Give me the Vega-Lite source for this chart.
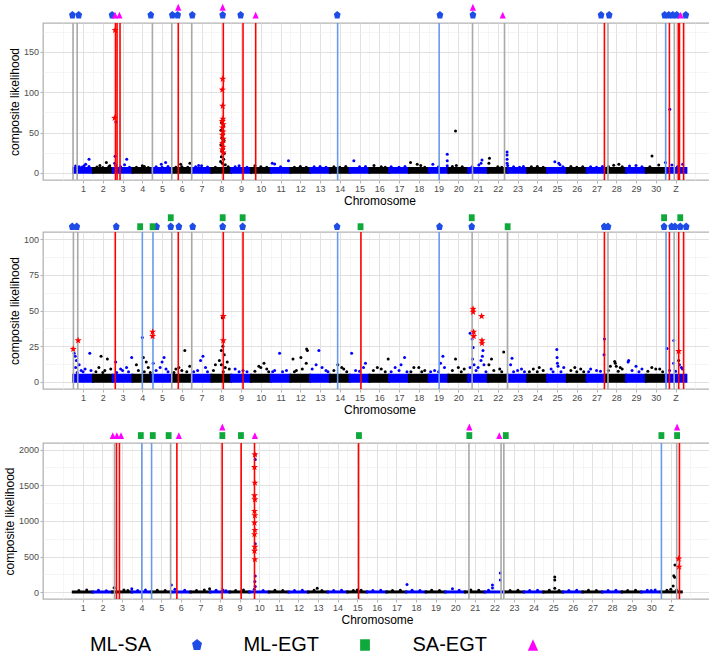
{
  "$schema": "https://vega.github.io/schema/vega-lite/v6.json",
  "background": "white",
  "padding": {"left": 3, "top": 3, "right": 2, "bottom": 0},
  "columns": 1,
  "align": "none",
  "spacing": 6,
  "resolve": {"scale": {"x": "independent", "y": "independent"}},
  "config": {
    "font": "Liberation Sans",
    "view": {"stroke": "#B3B3B3", "strokeWidth": 1.3},
    "axis": {
      "domain": false, "grid": true, "gridColor": "#DEDEDE", "gridWidth": 0.9,
      "tickColor": "#B3B3B3", "tickSize": 3, "tickWidth": 1,
      "labelFont": "Liberation Sans", "labelFontSize": 9, "labelColor": "#4D4D4D", "labelPadding": 1.5,
      "labelOverlap": false,
      "titleFont": "Liberation Sans", "titleFontSize": 12, "titleFontWeight": "normal", "titleColor": "#000000", "titlePadding": 2
    }
  },
  "datasets": {
    "band": [
      {"p":1,"a":0.5,"b":1.5,"g":1,"h":6},{"p":1,"a":1.5,"b":2.5,"g":0,"h":6},{"p":1,"a":2.5,"b":3.5,"g":1,"h":6},{"p":1,"a":3.5,"b":4.5,"g":0,"h":6},{"p":1,"a":4.5,"b":5.5,"g":1,"h":6},{"p":1,"a":5.5,"b":6.5,"g":0,"h":6},{"p":1,"a":6.5,"b":7.5,"g":1,"h":6},{"p":1,"a":7.5,"b":8.5,"g":0,"h":6},{"p":1,"a":8.5,"b":9.5,"g":1,"h":6},{"p":1,"a":9.5,"b":10.5,"g":0,"h":6},{"p":1,"a":10.5,"b":11.5,"g":1,"h":6},{"p":1,"a":11.5,"b":12.5,"g":0,"h":6},{"p":1,"a":12.5,"b":13.5,"g":1,"h":6},{"p":1,"a":13.5,"b":14.5,"g":0,"h":6},{"p":1,"a":14.5,"b":15.5,"g":1,"h":6},{"p":1,"a":15.5,"b":16.5,"g":0,"h":6},{"p":1,"a":16.5,"b":17.5,"g":1,"h":6},{"p":1,"a":17.5,"b":18.5,"g":0,"h":6},{"p":1,"a":18.5,"b":19.5,"g":1,"h":6},{"p":1,"a":19.5,"b":20.5,"g":0,"h":6},{"p":1,"a":20.5,"b":21.5,"g":1,"h":6},{"p":1,"a":21.5,"b":22.5,"g":0,"h":6},{"p":1,"a":22.5,"b":23.5,"g":1,"h":6},{"p":1,"a":23.5,"b":24.5,"g":0,"h":6},{"p":1,"a":24.5,"b":25.5,"g":1,"h":6},{"p":1,"a":25.5,"b":26.5,"g":0,"h":6},{"p":1,"a":26.5,"b":27.5,"g":1,"h":6},{"p":1,"a":27.5,"b":28.5,"g":0,"h":6},{"p":1,"a":28.5,"b":29.5,"g":1,"h":6},{"p":1,"a":29.5,"b":30.5,"g":0,"h":6},{"p":1,"a":30.5,"b":31.55,"g":1,"h":6},
      {"p":2,"a":0.5,"b":1.5,"g":1,"h":5},{"p":2,"a":1.5,"b":2.5,"g":0,"h":5},{"p":2,"a":2.5,"b":3.5,"g":1,"h":5},{"p":2,"a":3.5,"b":4.5,"g":0,"h":5},{"p":2,"a":4.5,"b":5.5,"g":1,"h":5},{"p":2,"a":5.5,"b":6.5,"g":0,"h":5},{"p":2,"a":6.5,"b":7.5,"g":1,"h":5},{"p":2,"a":7.5,"b":8.5,"g":0,"h":5},{"p":2,"a":8.5,"b":9.5,"g":1,"h":5},{"p":2,"a":9.5,"b":10.5,"g":0,"h":5},{"p":2,"a":10.5,"b":11.5,"g":1,"h":5},{"p":2,"a":11.5,"b":12.5,"g":0,"h":5},{"p":2,"a":12.5,"b":13.5,"g":1,"h":5},{"p":2,"a":13.5,"b":14.5,"g":0,"h":5},{"p":2,"a":14.5,"b":15.5,"g":1,"h":5},{"p":2,"a":15.5,"b":16.5,"g":0,"h":5},{"p":2,"a":16.5,"b":17.5,"g":1,"h":5},{"p":2,"a":17.5,"b":18.5,"g":0,"h":5},{"p":2,"a":18.5,"b":19.5,"g":1,"h":5},{"p":2,"a":19.5,"b":20.5,"g":0,"h":5},{"p":2,"a":20.5,"b":21.5,"g":1,"h":5},{"p":2,"a":21.5,"b":22.5,"g":0,"h":5},{"p":2,"a":22.5,"b":23.5,"g":1,"h":5},{"p":2,"a":23.5,"b":24.5,"g":0,"h":5},{"p":2,"a":24.5,"b":25.5,"g":1,"h":5},{"p":2,"a":25.5,"b":26.5,"g":0,"h":5},{"p":2,"a":26.5,"b":27.5,"g":1,"h":5},{"p":2,"a":27.5,"b":28.5,"g":0,"h":5},{"p":2,"a":28.5,"b":29.5,"g":1,"h":5},{"p":2,"a":29.5,"b":30.5,"g":0,"h":5},{"p":2,"a":30.5,"b":31.55,"g":1,"h":5},
      {"p":3,"a":0.5,"b":1.5,"g":0,"h":8},{"p":3,"a":1.5,"b":2.5,"g":1,"h":8},{"p":3,"a":2.5,"b":3.5,"g":0,"h":8},{"p":3,"a":3.5,"b":4.5,"g":1,"h":8},{"p":3,"a":4.5,"b":5.5,"g":0,"h":8},{"p":3,"a":5.5,"b":6.5,"g":1,"h":8},{"p":3,"a":6.5,"b":7.5,"g":0,"h":8},{"p":3,"a":7.5,"b":8.5,"g":1,"h":8},{"p":3,"a":8.5,"b":9.5,"g":0,"h":8},{"p":3,"a":9.5,"b":10.5,"g":1,"h":8},{"p":3,"a":10.5,"b":11.5,"g":0,"h":8},{"p":3,"a":11.5,"b":12.5,"g":1,"h":8},{"p":3,"a":12.5,"b":13.5,"g":0,"h":8},{"p":3,"a":13.5,"b":14.5,"g":1,"h":8},{"p":3,"a":14.5,"b":15.5,"g":0,"h":8},{"p":3,"a":15.5,"b":16.5,"g":1,"h":8},{"p":3,"a":16.5,"b":17.5,"g":0,"h":8},{"p":3,"a":17.5,"b":18.5,"g":1,"h":8},{"p":3,"a":18.5,"b":19.5,"g":0,"h":8},{"p":3,"a":19.5,"b":20.5,"g":1,"h":8},{"p":3,"a":20.5,"b":21.5,"g":0,"h":8},{"p":3,"a":21.5,"b":22.5,"g":1,"h":8},{"p":3,"a":22.5,"b":23.5,"g":0,"h":8},{"p":3,"a":23.5,"b":24.5,"g":1,"h":8},{"p":3,"a":24.5,"b":25.5,"g":0,"h":8},{"p":3,"a":25.5,"b":26.5,"g":1,"h":8},{"p":3,"a":26.5,"b":27.5,"g":0,"h":8},{"p":3,"a":27.5,"b":28.5,"g":1,"h":8},{"p":3,"a":28.5,"b":29.5,"g":0,"h":8},{"p":3,"a":29.5,"b":30.5,"g":1,"h":8},{"p":3,"a":30.5,"b":31.55,"g":0,"h":8}
    ],
    "pt": [
      {"p":1,"x":0.62,"y":8.5,"g":1},{"p":1,"x":0.95,"y":7.2,"g":1},{"p":1,"x":1.3,"y":7.8,"g":1},{"p":1,"x":1.13,"y":10.6,"g":1},{"p":1,"x":1.3,"y":16.8,"g":1},{"p":1,"x":1.05,"y":8.8,"g":1},{"p":1,"x":0.8,"y":7.5,"g":1},
      {"p":1,"x":1.7,"y":7.2,"g":0},{"p":1,"x":2.0,"y":6.8,"g":0},{"p":1,"x":2.3,"y":7.6,"g":0},{"p":1,"x":2.18,"y":12.7,"g":0},{"p":1,"x":2.35,"y":8.8,"g":0},{"p":1,"x":1.85,"y":9,"g":0},
      {"p":1,"x":2.62,"y":20.6,"g":1},{"p":1,"x":2.66,"y":63,"g":1},{"p":1,"x":2.6,"y":12,"g":1},{"p":1,"x":2.65,"y":9,"g":1},{"p":1,"x":3.21,"y":16.8,"g":1},{"p":1,"x":3.1,"y":10,"g":1},{"p":1,"x":2.9,"y":7.5,"g":1},{"p":1,"x":3.35,"y":7,"g":1},
      {"p":1,"x":3.7,"y":7,"g":0},{"p":1,"x":4.1,"y":7.8,"g":0},{"p":1,"x":4.3,"y":6.8,"g":0},{"p":1,"x":4.0,"y":8.8,"g":0},
      {"p":1,"x":4.7,"y":7.5,"g":1},{"p":1,"x":5.0,"y":7,"g":1},{"p":1,"x":5.3,"y":8,"g":1},{"p":1,"x":4.96,"y":10.6,"g":1},{"p":1,"x":5.18,"y":13,"g":1},
      {"p":1,"x":5.7,"y":7,"g":0},{"p":1,"x":6.0,"y":7.5,"g":0},{"p":1,"x":6.3,"y":7,"g":0},{"p":1,"x":5.94,"y":10.6,"g":0},{"p":1,"x":6.41,"y":11.9,"g":0},
      {"p":1,"x":6.7,"y":7.5,"g":1},{"p":1,"x":7.0,"y":8.8,"g":1},{"p":1,"x":7.3,"y":7.2,"g":1},{"p":1,"x":6.85,"y":9,"g":1},
      {"p":1,"x":8.0,"y":62,"g":0},{"p":1,"x":8.12,"y":58,"g":0},{"p":1,"x":7.98,"y":53,"g":0},{"p":1,"x":8.1,"y":48,"g":0},{"p":1,"x":8.03,"y":43,"g":0},{"p":1,"x":8.14,"y":40,"g":0},{"p":1,"x":7.98,"y":35,"g":0},{"p":1,"x":8.1,"y":30,"g":0},{"p":1,"x":8.15,"y":24,"g":0},{"p":1,"x":8.0,"y":20,"g":0},{"p":1,"x":8.12,"y":17,"g":0},{"p":1,"x":7.96,"y":14,"g":0},{"p":1,"x":8.05,"y":12,"g":0},{"p":1,"x":8.2,"y":10,"g":0},{"p":1,"x":7.7,"y":7,"g":0},{"p":1,"x":8.35,"y":7.5,"g":0},{"p":1,"x":8.08,"y":66,"g":0},{"p":1,"x":8.02,"y":27,"g":0},
      {"p":1,"x":8.7,"y":7.5,"g":1},{"p":1,"x":8.9,"y":8.8,"g":1},{"p":1,"x":9.3,"y":7,"g":1},
      {"p":1,"x":9.7,"y":8.8,"g":0},{"p":1,"x":10.0,"y":7.5,"g":0},{"p":1,"x":10.3,"y":7,"g":0},
      {"p":1,"x":10.58,"y":12,"g":1},{"p":1,"x":10.7,"y":11,"g":1},{"p":1,"x":11.0,"y":7.5,"g":1},{"p":1,"x":11.4,"y":15,"g":1},
      {"p":1,"x":11.7,"y":7,"g":0},{"p":1,"x":12.0,"y":7.8,"g":0},{"p":1,"x":12.3,"y":7,"g":0},
      {"p":1,"x":12.7,"y":7.5,"g":1},{"p":1,"x":13.0,"y":8,"g":1},{"p":1,"x":13.3,"y":7,"g":1},
      {"p":1,"x":13.7,"y":7.5,"g":0},{"p":1,"x":14.0,"y":7,"g":0},{"p":1,"x":14.3,"y":7.8,"g":0},
      {"p":1,"x":14.71,"y":15,"g":1},{"p":1,"x":15.0,"y":7.5,"g":1},{"p":1,"x":15.3,"y":8,"g":1},
      {"p":1,"x":15.73,"y":9,"g":0},{"p":1,"x":16.1,"y":7.5,"g":0},{"p":1,"x":16.3,"y":7,"g":0},
      {"p":1,"x":16.6,"y":7.5,"g":1},{"p":1,"x":17.0,"y":7,"g":1},{"p":1,"x":17.3,"y":8,"g":1},
      {"p":1,"x":17.58,"y":12.7,"g":0},{"p":1,"x":17.92,"y":10.6,"g":0},{"p":1,"x":18.1,"y":9,"g":0},{"p":1,"x":18.3,"y":7,"g":0},
      {"p":1,"x":18.71,"y":10.6,"g":1},{"p":1,"x":19.0,"y":7.5,"g":1},{"p":1,"x":19.44,"y":23.2,"g":1},{"p":1,"x":19.44,"y":15,"g":1},{"p":1,"x":19.44,"y":8.8,"g":1},
      {"p":1,"x":19.86,"y":52,"g":0},{"p":1,"x":19.7,"y":8,"g":0},{"p":1,"x":20.2,"y":7.5,"g":0},{"p":1,"x":19.9,"y":9,"g":0},
      {"p":1,"x":21.04,"y":9.7,"g":1},{"p":1,"x":21.2,"y":16,"g":1},{"p":1,"x":21.15,"y":12,"g":1},{"p":1,"x":20.7,"y":7.5,"g":1},
      {"p":1,"x":21.58,"y":18,"g":0},{"p":1,"x":21.55,"y":12,"g":0},{"p":1,"x":22.0,"y":7.5,"g":0},{"p":1,"x":22.2,"y":7,"g":0},
      {"p":1,"x":22.47,"y":26,"g":1},{"p":1,"x":22.47,"y":22,"g":1},{"p":1,"x":22.47,"y":17,"g":1},{"p":1,"x":22.47,"y":12,"g":1},{"p":1,"x":22.5,"y":9,"g":1},{"p":1,"x":22.8,"y":7.5,"g":1},{"p":1,"x":23.1,"y":7,"g":1},{"p":1,"x":23.3,"y":8,"g":1},
      {"p":1,"x":23.7,"y":7.5,"g":0},{"p":1,"x":24.0,"y":8,"g":0},{"p":1,"x":24.3,"y":7,"g":0},
      {"p":1,"x":24.89,"y":13.7,"g":1},{"p":1,"x":25.09,"y":12,"g":1},{"p":1,"x":25.15,"y":10,"g":1},{"p":1,"x":25.3,"y":7.5,"g":1},
      {"p":1,"x":25.7,"y":8,"g":0},{"p":1,"x":26.0,"y":7,"g":0},{"p":1,"x":26.3,"y":7.5,"g":0},
      {"p":1,"x":26.7,"y":7.5,"g":1},{"p":1,"x":27.0,"y":7,"g":1},{"p":1,"x":27.3,"y":8,"g":1},
      {"p":1,"x":27.87,"y":9.3,"g":0},{"p":1,"x":28.13,"y":10.6,"g":0},{"p":1,"x":28.3,"y":7.5,"g":0},{"p":1,"x":27.6,"y":8,"g":0},
      {"p":1,"x":28.67,"y":8.4,"g":1},{"p":1,"x":29.0,"y":9,"g":1},{"p":1,"x":29.3,"y":7.5,"g":1},
      {"p":1,"x":29.81,"y":21,"g":0},{"p":1,"x":30.15,"y":9.7,"g":0},{"p":1,"x":29.7,"y":7.5,"g":0},
      {"p":1,"x":30.49,"y":13,"g":1},{"p":1,"x":30.71,"y":79,"g":1},{"p":1,"x":30.82,"y":9.7,"g":1},{"p":1,"x":31.36,"y":10.6,"g":1},{"p":1,"x":31.1,"y":7.5,"g":1},

      {"p":2,"x":0.55,"y":20,"g":1},{"p":2,"x":0.6,"y":18,"g":1},{"p":2,"x":0.66,"y":15,"g":1},{"p":2,"x":0.8,"y":12,"g":1},{"p":2,"x":0.62,"y":10,"g":1},{"p":2,"x":0.9,"y":8,"g":1},{"p":2,"x":1.34,"y":20,"g":1},{"p":2,"x":1.1,"y":9,"g":1},{"p":2,"x":1.4,"y":8,"g":1},{"p":2,"x":1.0,"y":7,"g":1},{"p":2,"x":0.7,"y":6.5,"g":1},
      {"p":2,"x":1.91,"y":18,"g":0},{"p":2,"x":2.23,"y":16,"g":0},{"p":2,"x":1.8,"y":10,"g":0},{"p":2,"x":2.4,"y":9,"g":0},{"p":2,"x":2.1,"y":8,"g":0},{"p":2,"x":1.65,"y":7,"g":0},{"p":2,"x":2.0,"y":6.5,"g":0},
      {"p":2,"x":2.65,"y":14,"g":1},{"p":2,"x":3.46,"y":17,"g":1},{"p":2,"x":3.2,"y":10,"g":1},{"p":2,"x":2.9,"y":9,"g":1},{"p":2,"x":3.0,"y":8,"g":1},{"p":2,"x":3.3,"y":7,"g":1},{"p":2,"x":2.7,"y":6.5,"g":1},
      {"p":2,"x":4.0,"y":31,"g":1},{"p":2,"x":4.05,"y":17,"g":0},{"p":2,"x":3.7,"y":12,"g":0},{"p":2,"x":4.2,"y":14,"g":0},{"p":2,"x":4.3,"y":10,"g":0},{"p":2,"x":3.8,"y":8,"g":0},{"p":2,"x":4.1,"y":7,"g":0},{"p":2,"x":4.4,"y":6.5,"g":0},
      {"p":2,"x":4.55,"y":13,"g":1},{"p":2,"x":5.1,"y":17,"g":1},{"p":2,"x":5.0,"y":14,"g":1},{"p":2,"x":4.9,"y":10,"g":1},{"p":2,"x":5.2,"y":9,"g":1},{"p":2,"x":4.7,"y":8,"g":1},{"p":2,"x":5.3,"y":7,"g":1},
      {"p":2,"x":5.85,"y":10,"g":0},{"p":2,"x":6.15,"y":22,"g":0},{"p":2,"x":6.4,"y":11,"g":0},{"p":2,"x":5.7,"y":9,"g":0},{"p":2,"x":6.0,"y":8,"g":0},{"p":2,"x":6.25,"y":7,"g":0},{"p":2,"x":5.6,"y":6.5,"g":0},
      {"p":2,"x":7.07,"y":18,"g":1},{"p":2,"x":6.95,"y":15,"g":1},{"p":2,"x":7.2,"y":10,"g":1},{"p":2,"x":6.8,"y":8,"g":1},{"p":2,"x":7.3,"y":7,"g":1},{"p":2,"x":6.6,"y":7,"g":1},
      {"p":2,"x":8.05,"y":45,"g":0},{"p":2,"x":8.08,"y":25,"g":0},{"p":2,"x":8.0,"y":22,"g":0},{"p":2,"x":8.15,"y":19,"g":0},{"p":2,"x":7.9,"y":15,"g":0},{"p":2,"x":8.3,"y":14,"g":0},{"p":2,"x":7.7,"y":12,"g":0},{"p":2,"x":8.0,"y":12,"g":0},{"p":2,"x":8.2,"y":10,"g":0},{"p":2,"x":8.4,"y":9,"g":0},{"p":2,"x":7.6,"y":8,"g":0},{"p":2,"x":8.1,"y":7,"g":0},
      {"p":2,"x":9.1,"y":8,"g":1},{"p":2,"x":9.3,"y":7,"g":1},{"p":2,"x":8.7,"y":9,"g":1},{"p":2,"x":8.9,"y":7,"g":1},
      {"p":2,"x":9.9,"y":11,"g":0},{"p":2,"x":10.16,"y":13,"g":0},{"p":2,"x":10.0,"y":10,"g":0},{"p":2,"x":10.3,"y":9,"g":0},{"p":2,"x":9.7,"y":7.5,"g":0},{"p":2,"x":10.4,"y":7,"g":0},
      {"p":2,"x":10.95,"y":20,"g":1},{"p":2,"x":11.3,"y":8,"g":1},{"p":2,"x":11.1,"y":7,"g":1},{"p":2,"x":10.7,"y":8,"g":1},{"p":2,"x":10.6,"y":7,"g":1},
      {"p":2,"x":11.63,"y":16,"g":0},{"p":2,"x":12.03,"y":17,"g":0},{"p":2,"x":12.32,"y":23,"g":0},{"p":2,"x":12.36,"y":22,"g":0},{"p":2,"x":12.3,"y":13,"g":0},{"p":2,"x":12.1,"y":9,"g":0},{"p":2,"x":11.8,"y":8,"g":0},{"p":2,"x":11.7,"y":7,"g":0},
      {"p":2,"x":12.8,"y":12,"g":1},{"p":2,"x":12.94,"y":22,"g":1},{"p":2,"x":13.1,"y":10,"g":1},{"p":2,"x":12.6,"y":9,"g":1},{"p":2,"x":13.3,"y":8,"g":1},{"p":2,"x":13.4,"y":7,"g":1},
      {"p":2,"x":13.9,"y":12,"g":0},{"p":2,"x":14.1,"y":10,"g":0},{"p":2,"x":14.2,"y":9,"g":0},{"p":2,"x":13.7,"y":8,"g":0},{"p":2,"x":14.35,"y":7,"g":0},
      {"p":2,"x":14.6,"y":20,"g":1},{"p":2,"x":15.2,"y":10,"g":1},{"p":2,"x":15.3,"y":13,"g":1},{"p":2,"x":14.8,"y":8,"g":1},{"p":2,"x":15.0,"y":7.5,"g":1},
      {"p":2,"x":16.45,"y":16,"g":0},{"p":2,"x":15.9,"y":10,"g":0},{"p":2,"x":16.1,"y":9,"g":0},{"p":2,"x":15.7,"y":8,"g":0},{"p":2,"x":16.3,"y":7,"g":0},
      {"p":2,"x":17.28,"y":17,"g":1},{"p":2,"x":17.1,"y":12,"g":1},{"p":2,"x":16.8,"y":10,"g":1},{"p":2,"x":17.0,"y":8,"g":1},{"p":2,"x":17.4,"y":7,"g":1},{"p":2,"x":16.6,"y":7,"g":1},
      {"p":2,"x":17.75,"y":10,"g":0},{"p":2,"x":18.0,"y":10,"g":0},{"p":2,"x":18.3,"y":8,"g":0},{"p":2,"x":17.6,"y":7,"g":0},{"p":2,"x":18.15,"y":7,"g":0},
      {"p":2,"x":19.1,"y":13,"g":1},{"p":2,"x":19.22,"y":18,"g":1},{"p":2,"x":19.3,"y":10,"g":1},{"p":2,"x":18.8,"y":8,"g":1},{"p":2,"x":18.6,"y":7,"g":1},{"p":2,"x":19.0,"y":7,"g":1},
      {"p":2,"x":19.86,"y":16,"g":0},{"p":2,"x":20.0,"y":10,"g":0},{"p":2,"x":20.3,"y":9,"g":0},{"p":2,"x":19.7,"y":8,"g":0},{"p":2,"x":20.15,"y":7,"g":0},
      {"p":2,"x":20.6,"y":34,"g":1},{"p":2,"x":20.7,"y":30,"g":1},{"p":2,"x":20.75,"y":24,"g":1},{"p":2,"x":20.72,"y":16,"g":1},{"p":2,"x":20.8,"y":12,"g":1},{"p":2,"x":20.6,"y":10,"g":1},{"p":2,"x":21.25,"y":22,"g":1},{"p":2,"x":21.22,"y":18,"g":1},{"p":2,"x":21.15,"y":15,"g":1},{"p":2,"x":21.3,"y":12,"g":1},{"p":2,"x":21.0,"y":10,"g":1},{"p":2,"x":20.9,"y":8,"g":1},{"p":2,"x":21.4,"y":7,"g":1},
      {"p":2,"x":21.68,"y":16,"g":0},{"p":2,"x":21.55,"y":12,"g":0},{"p":2,"x":22.3,"y":21,"g":0},{"p":2,"x":22.1,"y":9,"g":0},{"p":2,"x":21.8,"y":8,"g":0},{"p":2,"x":22.2,"y":7,"g":0},
      {"p":2,"x":22.72,"y":16.5,"g":1},{"p":2,"x":22.65,"y":12,"g":1},{"p":2,"x":23.2,"y":9,"g":1},{"p":2,"x":23.0,"y":8,"g":1},{"p":2,"x":22.8,"y":7,"g":1},{"p":2,"x":23.35,"y":7,"g":1},
      {"p":2,"x":23.8,"y":9,"g":0},{"p":2,"x":24.1,"y":10,"g":0},{"p":2,"x":24.3,"y":8,"g":0},{"p":2,"x":23.6,"y":7,"g":0},{"p":2,"x":24.0,"y":7,"g":0},
      {"p":2,"x":24.99,"y":22.6,"g":1},{"p":2,"x":25.0,"y":17,"g":1},{"p":2,"x":25.02,"y":13,"g":1},{"p":2,"x":25.05,"y":11,"g":1},{"p":2,"x":24.7,"y":9,"g":1},{"p":2,"x":25.34,"y":10,"g":1},{"p":2,"x":24.8,"y":7,"g":1},{"p":2,"x":25.2,"y":7,"g":1},
      {"p":2,"x":25.9,"y":10,"g":0},{"p":2,"x":26.2,"y":9,"g":0},{"p":2,"x":25.7,"y":8,"g":0},{"p":2,"x":26.35,"y":7,"g":0},{"p":2,"x":26.0,"y":7,"g":0},
      {"p":2,"x":26.7,"y":9,"g":1},{"p":2,"x":27.0,"y":8,"g":1},{"p":2,"x":27.4,"y":30,"g":1},{"p":2,"x":27.38,"y":19,"g":1},{"p":2,"x":26.6,"y":7,"g":1},{"p":2,"x":27.2,"y":7.5,"g":1},
      {"p":2,"x":27.92,"y":14.3,"g":0},{"p":2,"x":27.95,"y":13,"g":0},{"p":2,"x":28.0,"y":11,"g":0},{"p":2,"x":28.2,"y":10,"g":0},{"p":2,"x":28.3,"y":9,"g":0},{"p":2,"x":27.7,"y":11,"g":0},{"p":2,"x":27.6,"y":8,"g":0},{"p":2,"x":28.1,"y":7.5,"g":0},
      {"p":2,"x":28.6,"y":14,"g":1},{"p":2,"x":28.63,"y":15,"g":1},{"p":2,"x":29.0,"y":11,"g":1},{"p":2,"x":29.3,"y":9,"g":1},{"p":2,"x":28.8,"y":8,"g":1},{"p":2,"x":29.15,"y":7,"g":1},
      {"p":2,"x":29.8,"y":10,"g":0},{"p":2,"x":30.0,"y":9,"g":0},{"p":2,"x":30.2,"y":9,"g":0},{"p":2,"x":29.6,"y":7.5,"g":0},{"p":2,"x":30.35,"y":7,"g":0},
      {"p":2,"x":30.57,"y":23.4,"g":1},{"p":2,"x":30.91,"y":29,"g":1},{"p":2,"x":30.9,"y":13,"g":1},{"p":2,"x":31.2,"y":12,"g":1},{"p":2,"x":31.35,"y":9,"g":1},{"p":2,"x":30.7,"y":8,"g":1},{"p":2,"x":31.0,"y":7.5,"g":1},{"p":2,"x":31.16,"y":15,"g":0},{"p":2,"x":31.3,"y":10,"g":1},

      {"p":3,"x":0.8,"y":25,"g":0},{"p":3,"x":1.2,"y":30,"g":0},
      {"p":3,"x":1.8,"y":28,"g":1},{"p":3,"x":2.2,"y":22,"g":1},
      {"p":3,"x":2.6,"y":64,"g":0},{"p":3,"x":3.1,"y":30,"g":0},{"p":3,"x":3.3,"y":25,"g":0},
      {"p":3,"x":3.5,"y":50,"g":1},{"p":3,"x":3.8,"y":25,"g":1},{"p":3,"x":4.2,"y":30,"g":1},
      {"p":3,"x":4.8,"y":28,"g":0},{"p":3,"x":5.2,"y":25,"g":0},
      {"p":3,"x":5.52,"y":102,"g":1},{"p":3,"x":5.7,"y":40,"g":1},{"p":3,"x":6.2,"y":28,"g":1},
      {"p":3,"x":6.8,"y":25,"g":0},{"p":3,"x":7.2,"y":30,"g":0},{"p":3,"x":7.47,"y":50,"g":0},
      {"p":3,"x":7.8,"y":28,"g":1},{"p":3,"x":8.15,"y":30,"g":1},{"p":3,"x":8.3,"y":22,"g":1},
      {"p":3,"x":8.8,"y":25,"g":0},{"p":3,"x":9.2,"y":30,"g":0},
      {"p":3,"x":9.8,"y":1930,"g":1},{"p":3,"x":9.8,"y":1860,"g":1},{"p":3,"x":9.8,"y":680,"g":1},{"p":3,"x":9.8,"y":228,"g":1},{"p":3,"x":9.78,"y":150,"g":1},{"p":3,"x":9.8,"y":80,"g":1},{"p":3,"x":9.75,"y":40,"g":1},{"p":3,"x":10.2,"y":25,"g":1},
      {"p":3,"x":10.8,"y":28,"g":0},{"p":3,"x":11.2,"y":25,"g":0},
      {"p":3,"x":11.8,"y":25,"g":1},{"p":3,"x":12.2,"y":28,"g":1},
      {"p":3,"x":12.96,"y":55,"g":0},{"p":3,"x":12.8,"y":28,"g":0},{"p":3,"x":13.2,"y":25,"g":0},
      {"p":3,"x":13.8,"y":25,"g":1},{"p":3,"x":14.2,"y":28,"g":1},
      {"p":3,"x":15.0,"y":30,"g":0},{"p":3,"x":14.8,"y":25,"g":0},{"p":3,"x":15.2,"y":28,"g":0},
      {"p":3,"x":15.8,"y":25,"g":1},{"p":3,"x":16.2,"y":28,"g":1},
      {"p":3,"x":16.8,"y":25,"g":0},{"p":3,"x":17.2,"y":28,"g":0},
      {"p":3,"x":17.54,"y":107,"g":1},{"p":3,"x":17.8,"y":28,"g":1},{"p":3,"x":18.2,"y":25,"g":1},
      {"p":3,"x":18.8,"y":28,"g":0},{"p":3,"x":19.2,"y":25,"g":0},
      {"p":3,"x":19.86,"y":50,"g":1},{"p":3,"x":20.2,"y":28,"g":1},
      {"p":3,"x":20.8,"y":30,"g":0},{"p":3,"x":21.2,"y":28,"g":0},
      {"p":3,"x":21.9,"y":102,"g":1},{"p":3,"x":21.9,"y":60,"g":1},{"p":3,"x":22.3,"y":270,"g":1},{"p":3,"x":22.3,"y":170,"g":1},{"p":3,"x":21.7,"y":28,"g":1},
      {"p":3,"x":22.8,"y":25,"g":0},{"p":3,"x":23.2,"y":28,"g":0},
      {"p":3,"x":23.8,"y":25,"g":1},{"p":3,"x":24.2,"y":28,"g":1},
      {"p":3,"x":25.08,"y":214,"g":0},{"p":3,"x":25.08,"y":170,"g":0},{"p":3,"x":25.08,"y":55,"g":0},{"p":3,"x":24.8,"y":28,"g":0},{"p":3,"x":25.3,"y":25,"g":0},
      {"p":3,"x":25.8,"y":25,"g":1},{"p":3,"x":26.2,"y":28,"g":1},
      {"p":3,"x":26.8,"y":28,"g":0},{"p":3,"x":27.2,"y":25,"g":0},
      {"p":3,"x":27.8,"y":25,"g":1},{"p":3,"x":28.2,"y":28,"g":1},
      {"p":3,"x":28.8,"y":25,"g":0},{"p":3,"x":29.2,"y":28,"g":0},
      {"p":3,"x":29.8,"y":28,"g":1},{"p":3,"x":30.0,"y":25,"g":1},{"p":3,"x":30.2,"y":30,"g":1},
      {"p":3,"x":31.21,"y":382,"g":0},{"p":3,"x":31.15,"y":232,"g":0},{"p":3,"x":31.2,"y":210,"g":0},{"p":3,"x":31.12,"y":88,"g":0},{"p":3,"x":31.0,"y":40,"g":0},{"p":3,"x":31.3,"y":30,"g":0},{"p":3,"x":30.8,"y":28,"g":0}
    ],
    "star": [
      {"p":1,"x":2.62,"y":177},{"p":1,"x":2.6,"y":68},
      {"p":1,"x":8.07,"y":116.5},{"p":1,"x":8.05,"y":103},{"p":1,"x":8.07,"y":83},{"p":1,"x":8.08,"y":67},{"p":1,"x":8.05,"y":64},{"p":1,"x":8.09,"y":60},{"p":1,"x":8.06,"y":56},{"p":1,"x":8.08,"y":51},{"p":1,"x":8.05,"y":47},{"p":1,"x":8.09,"y":42},{"p":1,"x":8.06,"y":37},{"p":1,"x":8.08,"y":32},{"p":1,"x":8.05,"y":29},{"p":1,"x":8.09,"y":25},
      {"p":2,"x":0.5,"y":23},{"p":2,"x":0.75,"y":29},{"p":2,"x":4.52,"y":35},{"p":2,"x":4.52,"y":32},{"p":2,"x":8.1,"y":46},{"p":2,"x":8.1,"y":29},{"p":2,"x":20.75,"y":51},{"p":2,"x":20.75,"y":49},{"p":2,"x":20.78,"y":35},{"p":2,"x":20.78,"y":32},{"p":2,"x":21.18,"y":46},{"p":2,"x":21.2,"y":29},{"p":2,"x":21.2,"y":27},{"p":2,"x":31.16,"y":21.5},
      {"p":3,"x":9.78,"y":1930},{"p":3,"x":9.76,"y":1752},{"p":3,"x":9.78,"y":1533},{"p":3,"x":9.76,"y":1357},{"p":3,"x":9.78,"y":1301},{"p":3,"x":9.76,"y":1137},{"p":3,"x":9.78,"y":1077},{"p":3,"x":9.76,"y":974},{"p":3,"x":9.78,"y":871},{"p":3,"x":9.76,"y":811},{"p":3,"x":9.78,"y":634},{"p":3,"x":9.76,"y":578},{"p":3,"x":9.78,"y":461},{"p":3,"x":31.4,"y":470},{"p":3,"x":31.42,"y":356}
    ],
    "vl": [
      {"p":1,"x":0.49,"t":"g"},{"p":1,"x":0.7,"t":"g"},{"p":1,"x":4.51,"t":"g"},{"p":1,"x":5.49,"t":"g"},{"p":1,"x":6.5,"t":"g"},{"p":1,"x":20.72,"t":"g"},{"p":1,"x":22.34,"t":"g"},{"p":1,"x":27.58,"t":"g"},{"p":1,"x":30.94,"t":"g"},
      {"p":1,"x":2.64,"t":"r"},{"p":1,"x":2.72,"t":"r"},{"p":1,"x":2.87,"t":"r"},{"p":1,"x":5.82,"t":"r"},{"p":1,"x":8.1,"t":"r"},{"p":1,"x":9.1,"t":"r"},{"p":1,"x":9.74,"t":"r"},{"p":1,"x":27.4,"t":"r"},{"p":1,"x":30.69,"t":"r"},{"p":1,"x":31.14,"t":"r"},{"p":1,"x":31.2,"t":"r"},{"p":1,"x":31.41,"t":"r"},
      {"p":1,"x":13.89,"t":"b"},{"p":1,"x":19.03,"t":"b"},{"p":1,"x":30.5,"t":"b"},
      {"p":2,"x":0.51,"t":"g"},{"p":2,"x":0.73,"t":"g"},{"p":2,"x":5.49,"t":"g"},{"p":2,"x":6.5,"t":"g"},{"p":2,"x":20.7,"t":"g"},{"p":2,"x":22.49,"t":"g"},{"p":2,"x":27.58,"t":"g"},{"p":2,"x":30.93,"t":"g"},
      {"p":2,"x":2.63,"t":"r"},{"p":2,"x":5.82,"t":"r"},{"p":2,"x":8.1,"t":"r"},{"p":2,"x":9.1,"t":"r"},{"p":2,"x":15.07,"t":"r"},{"p":2,"x":27.4,"t":"r"},{"p":2,"x":30.69,"t":"r"},{"p":2,"x":31.16,"t":"r"},{"p":2,"x":31.41,"t":"r"},
      {"p":2,"x":4.0,"t":"b"},{"p":2,"x":4.54,"t":"b"},{"p":2,"x":13.89,"t":"b"},{"p":2,"x":19.03,"t":"b"},{"p":2,"x":30.52,"t":"b"},
      {"p":3,"x":2.62,"t":"g"},{"p":3,"x":5.48,"t":"g"},{"p":3,"x":20.7,"t":"g"},{"p":3,"x":22.34,"t":"g"},{"p":3,"x":22.48,"t":"g"},{"p":3,"x":31.3,"t":"g"},
      {"p":3,"x":2.72,"t":"r"},{"p":3,"x":2.87,"t":"r"},{"p":3,"x":5.8,"t":"r"},{"p":3,"x":8.11,"t":"r"},{"p":3,"x":9.08,"t":"r"},{"p":3,"x":9.76,"t":"r"},{"p":3,"x":15.07,"t":"r"},{"p":3,"x":31.44,"t":"r"},
      {"p":3,"x":4.01,"t":"b"},{"p":3,"x":4.51,"t":"b"},{"p":3,"x":30.52,"t":"b"}
    ],
    "mk": [
      {"p":1,"x":0.46,"y":195.6,"m":"ML-SA"},{"p":1,"x":0.78,"y":195.6,"m":"ML-SA"},{"p":1,"x":2.47,"y":195.6,"m":"ML-SA"},{"p":1,"x":4.43,"y":195.6,"m":"ML-SA"},{"p":1,"x":5.52,"y":195.6,"m":"ML-SA"},{"p":1,"x":5.79,"y":195.6,"m":"ML-SA"},{"p":1,"x":6.53,"y":195.6,"m":"ML-SA"},{"p":1,"x":8.07,"y":195.6,"m":"ML-SA"},{"p":1,"x":8.98,"y":195.6,"m":"ML-SA"},{"p":1,"x":13.87,"y":195.6,"m":"ML-SA"},{"p":1,"x":19.07,"y":195.6,"m":"ML-SA"},{"p":1,"x":20.74,"y":195.6,"m":"ML-SA"},{"p":1,"x":27.23,"y":195.6,"m":"ML-SA"},{"p":1,"x":27.64,"y":195.6,"m":"ML-SA"},{"p":1,"x":30.45,"y":195.6,"m":"ML-SA"},{"p":1,"x":30.66,"y":195.6,"m":"ML-SA"},{"p":1,"x":30.86,"y":195.6,"m":"ML-SA"},{"p":1,"x":31.06,"y":195.6,"m":"ML-SA"},{"p":1,"x":31.52,"y":195.6,"m":"ML-SA"},
      {"p":1,"x":2.62,"y":195.6,"m":"SA-EGT"},{"p":1,"x":2.84,"y":195.6,"m":"SA-EGT"},{"p":1,"x":9.74,"y":195.6,"m":"SA-EGT"},{"p":1,"x":22.25,"y":195.6,"m":"SA-EGT"},{"p":1,"x":31.26,"y":195.6,"m":"SA-EGT"},
      {"p":1,"x":5.82,"y":205.4,"m":"SA-EGT"},{"p":1,"x":8.07,"y":205.4,"m":"SA-EGT"},{"p":1,"x":20.74,"y":205.4,"m":"SA-EGT"},
      {"p":2,"x":0.45,"y":108.7,"m":"ML-SA"},{"p":2,"x":0.68,"y":108.7,"m":"ML-SA"},{"p":2,"x":2.68,"y":108.7,"m":"ML-SA"},{"p":2,"x":4.72,"y":108.7,"m":"ML-SA"},{"p":2,"x":5.44,"y":108.7,"m":"ML-SA"},{"p":2,"x":5.85,"y":108.7,"m":"ML-SA"},{"p":2,"x":6.55,"y":108.7,"m":"ML-SA"},{"p":2,"x":8.07,"y":108.7,"m":"ML-SA"},{"p":2,"x":9.08,"y":108.7,"m":"ML-SA"},{"p":2,"x":13.86,"y":108.7,"m":"ML-SA"},{"p":2,"x":19.05,"y":108.7,"m":"ML-SA"},{"p":2,"x":20.68,"y":108.7,"m":"ML-SA"},{"p":2,"x":27.39,"y":108.7,"m":"ML-SA"},{"p":2,"x":27.58,"y":108.7,"m":"ML-SA"},{"p":2,"x":30.42,"y":108.7,"m":"ML-SA"},{"p":2,"x":30.8,"y":108.7,"m":"ML-SA"},{"p":2,"x":30.97,"y":108.7,"m":"ML-SA"},{"p":2,"x":31.24,"y":108.7,"m":"ML-SA"},{"p":2,"x":31.54,"y":108.7,"m":"ML-SA"},
      {"p":2,"x":3.89,"y":108.7,"m":"ML-EGT"},{"p":2,"x":4.52,"y":108.7,"m":"ML-EGT"},{"p":2,"x":15.05,"y":108.7,"m":"ML-EGT"},{"p":2,"x":22.5,"y":108.7,"m":"ML-EGT"},
      {"p":2,"x":5.44,"y":115,"m":"ML-EGT"},{"p":2,"x":8.07,"y":115,"m":"ML-EGT"},{"p":2,"x":9.08,"y":115,"m":"ML-EGT"},{"p":2,"x":20.68,"y":115,"m":"ML-EGT"},{"p":2,"x":30.42,"y":115,"m":"ML-EGT"},{"p":2,"x":31.24,"y":115,"m":"ML-EGT"},
      {"p":3,"x":2.53,"y":2196,"m":"SA-EGT"},{"p":3,"x":2.74,"y":2196,"m":"SA-EGT"},{"p":3,"x":2.95,"y":2196,"m":"SA-EGT"},{"p":3,"x":5.9,"y":2196,"m":"SA-EGT"},{"p":3,"x":9.78,"y":2196,"m":"SA-EGT"},{"p":3,"x":22.25,"y":2196,"m":"SA-EGT"},
      {"p":3,"x":8.12,"y":2316,"m":"SA-EGT"},{"p":3,"x":20.72,"y":2316,"m":"SA-EGT"},{"p":3,"x":31.32,"y":2316,"m":"SA-EGT"},
      {"p":3,"x":3.96,"y":2196,"m":"ML-EGT"},{"p":3,"x":4.57,"y":2196,"m":"ML-EGT"},{"p":3,"x":5.38,"y":2196,"m":"ML-EGT"},{"p":3,"x":8.12,"y":2196,"m":"ML-EGT"},{"p":3,"x":9.07,"y":2196,"m":"ML-EGT"},{"p":3,"x":15.09,"y":2196,"m":"ML-EGT"},{"p":3,"x":20.72,"y":2196,"m":"ML-EGT"},{"p":3,"x":22.58,"y":2196,"m":"ML-EGT"},{"p":3,"x":30.52,"y":2196,"m":"ML-EGT"},{"p":3,"x":31.32,"y":2196,"m":"ML-EGT"}
    ],
    "leg": [
      {"k":1,"m":"ML-SA"},{"k":2,"m":"ML-EGT"},{"k":3,"m":"SA-EGT"}
    ]
  },
  "concat": [
    {
      "width": 673, "height": 157,
      "resolve": {"axis": {"x": "independent", "y": "independent"}},
      "layer": [
        {
          "data": {"name": "band"}, "transform": [{"filter": "datum.p==1"}],
          "mark": {"type": "rect", "strokeWidth": 2},
          "encoding": {
            "x": {"field": "a", "type": "quantitative", "scale": {"domain": [-1.03, 33.05], "nice": false, "zero": false},
              "axis": {"title": "Chromosome", "values": [1,2,3,4,5,6,7,8,9,10,11,12,13,14,15,16,17,18,19,20,21,22,23,24,25,26,27,28,29,30,31],
                "labelExpr": "datum.value==31?'Z':(''+datum.value)", "labelOverlap": false, "labelFlush": false, "labelPadding": 1}},
            "x2": {"field": "b"},
            "y": {"field": "h", "type": "quantitative", "scale": {"domain": [-8.85, 185.85], "nice": false, "zero": false},
              "axis": {"title": "composite likelihood", "values": [0,50,100,150], "format": "d"}},
            "y2": {"datum": 0},
            "color": {"condition": {"test": "datum.g==1", "value": "#0000FF"}, "value": "#000000"},
            "stroke": {"condition": {"test": "datum.g==1", "value": "#0000FF"}, "value": "#000000"}
          }
        },
        {
          "data": {"name": "pt"}, "transform": [{"filter": "datum.p==1"}],
          "mark": {"type": "circle", "size": 9, "opacity": 1},
          "encoding": {
            "x": {"field": "x", "type": "quantitative", "axis": null},
            "y": {"field": "y", "type": "quantitative",
              "axis": {"orient": "right", "values": [25,75,125,175], "grid": true, "gridColor": "#EFEFEF", "gridWidth": 0.6, "labels": false, "ticks": false, "domain": false, "title": null}},
            "color": {"condition": {"test": "datum.g==1", "value": "#0000FF"}, "value": "#000000"}
          }
        },
        {
          "data": {"name": "vl"}, "transform": [{"filter": "datum.p==1"}],
          "mark": {"type": "rule", "strokeWidth": 1.6},
          "encoding": {
            "x": {"field": "x", "type": "quantitative",
              "axis": {"orient": "top", "values": [0,0.5,1.5,2.5,3.5,4.5,5.5,6.5,7.5,8.5,9.5,10.5,11.5,12.5,13.5,14.5,15.5,16.5,17.5,18.5,19.5,20.5,21.5,22.5,23.5,24.5,25.5,26.5,27.5,28.5,29.5,30.5,31.5,32], "grid": true, "gridColor": "#EFEFEF", "gridWidth": 0.6, "labels": false, "ticks": false, "domain": false, "title": null}},
            "color": {"condition": [{"test": "datum.t=='r'", "value": "#FF0000"}, {"test": "datum.t=='b'", "value": "#6A9BEA"}], "value": "#A9A9A9"}
          }
        },
        {
          "data": {"name": "star"}, "transform": [{"filter": "datum.p==1"}],
          "mark": {"type": "point", "shape": "M0,-1L0.235,-0.324L0.951,-0.309L0.38,0.124L0.588,0.809L0,0.4L-0.588,0.809L-0.38,0.124L-0.951,-0.309L-0.235,-0.324Z", "filled": true, "color": "#FF0000", "size": 55, "opacity": 1, "strokeWidth": 0},
          "encoding": {
            "x": {"field": "x", "type": "quantitative", "axis": null},
            "y": {"field": "y", "type": "quantitative", "axis": null}
          }
        },
        {
          "data": {"name": "mk"}, "transform": [{"filter": "datum.p==1"}],
          "mark": {"type": "point", "filled": true, "opacity": 1, "strokeWidth": 0},
          "encoding": {
            "x": {"field": "x", "type": "quantitative", "axis": null},
            "y": {"field": "y", "type": "quantitative", "axis": null},
            "shape": {"condition": [{"test": "datum.m=='ML-SA'", "value": "M0,-1.1L0.9,-0.35L0.6,0.9L-0.6,0.9L-0.9,-0.35Z"}, {"test": "datum.m=='ML-EGT'", "value": "M-0.85,-1L0.85,-1L0.85,1L-0.85,1Z"}], "value": "M0,-1L0.9,1L-0.9,1Z"},
            "color": {"condition": [{"test": "datum.m=='ML-SA'", "value": "#1D4CE6"}, {"test": "datum.m=='ML-EGT'", "value": "#0FA83B"}], "value": "#FF00FF"},
            "size": {"condition": [{"test": "datum.m=='ML-SA'", "value": 56}], "value": 47}
          }
        }
      ]
    },
    {
      "width": 673, "height": 157,
      "resolve": {"axis": {"x": "independent", "y": "independent"}},
      "layer": [
        {
          "data": {"name": "band"}, "transform": [{"filter": "datum.p==2"}],
          "mark": {"type": "rect", "strokeWidth": 2},
          "encoding": {
            "x": {"field": "a", "type": "quantitative", "scale": {"domain": [-1.03, 33.05], "nice": false, "zero": false},
              "axis": {"title": "Chromosome", "values": [1,2,3,4,5,6,7,8,9,10,11,12,13,14,15,16,17,18,19,20,21,22,23,24,25,26,27,28,29,30,31],
                "labelExpr": "datum.value==31?'Z':(''+datum.value)", "labelOverlap": false, "labelFlush": false, "labelPadding": 1}},
            "x2": {"field": "b"},
            "y": {"field": "h", "type": "quantitative", "scale": {"domain": [-5, 105], "nice": false, "zero": false},
              "axis": {"title": "composite likelihood", "values": [0,25,50,75,100], "format": "d"}},
            "y2": {"datum": 0},
            "color": {"condition": {"test": "datum.g==1", "value": "#0000FF"}, "value": "#000000"},
            "stroke": {"condition": {"test": "datum.g==1", "value": "#0000FF"}, "value": "#000000"}
          }
        },
        {
          "data": {"name": "pt"}, "transform": [{"filter": "datum.p==2"}],
          "mark": {"type": "circle", "size": 9, "opacity": 1},
          "encoding": {
            "x": {"field": "x", "type": "quantitative", "axis": null},
            "y": {"field": "y", "type": "quantitative",
              "axis": {"orient": "right", "values": [12.5,37.5,62.5,87.5], "grid": true, "gridColor": "#EFEFEF", "gridWidth": 0.6, "labels": false, "ticks": false, "domain": false, "title": null}},
            "color": {"condition": {"test": "datum.g==1", "value": "#0000FF"}, "value": "#000000"}
          }
        },
        {
          "data": {"name": "vl"}, "transform": [{"filter": "datum.p==2"}],
          "mark": {"type": "rule", "strokeWidth": 1.6},
          "encoding": {
            "x": {"field": "x", "type": "quantitative",
              "axis": {"orient": "top", "values": [0,0.5,1.5,2.5,3.5,4.5,5.5,6.5,7.5,8.5,9.5,10.5,11.5,12.5,13.5,14.5,15.5,16.5,17.5,18.5,19.5,20.5,21.5,22.5,23.5,24.5,25.5,26.5,27.5,28.5,29.5,30.5,31.5,32], "grid": true, "gridColor": "#EFEFEF", "gridWidth": 0.6, "labels": false, "ticks": false, "domain": false, "title": null}},
            "color": {"condition": [{"test": "datum.t=='r'", "value": "#FF0000"}, {"test": "datum.t=='b'", "value": "#6A9BEA"}], "value": "#A9A9A9"}
          }
        },
        {
          "data": {"name": "star"}, "transform": [{"filter": "datum.p==2"}],
          "mark": {"type": "point", "shape": "M0,-1L0.235,-0.324L0.951,-0.309L0.38,0.124L0.588,0.809L0,0.4L-0.588,0.809L-0.38,0.124L-0.951,-0.309L-0.235,-0.324Z", "filled": true, "color": "#FF0000", "size": 55, "opacity": 1, "strokeWidth": 0},
          "encoding": {
            "x": {"field": "x", "type": "quantitative", "axis": null},
            "y": {"field": "y", "type": "quantitative", "axis": null}
          }
        },
        {
          "data": {"name": "mk"}, "transform": [{"filter": "datum.p==2"}],
          "mark": {"type": "point", "filled": true, "opacity": 1, "strokeWidth": 0},
          "encoding": {
            "x": {"field": "x", "type": "quantitative", "axis": null},
            "y": {"field": "y", "type": "quantitative", "axis": null},
            "shape": {"condition": [{"test": "datum.m=='ML-SA'", "value": "M0,-1.1L0.9,-0.35L0.6,0.9L-0.6,0.9L-0.9,-0.35Z"}, {"test": "datum.m=='ML-EGT'", "value": "M-0.85,-1L0.85,-1L0.85,1L-0.85,1Z"}], "value": "M0,-1L0.9,1L-0.9,1Z"},
            "color": {"condition": [{"test": "datum.m=='ML-SA'", "value": "#1D4CE6"}, {"test": "datum.m=='ML-EGT'", "value": "#0FA83B"}], "value": "#FF00FF"},
            "size": {"condition": [{"test": "datum.m=='ML-SA'", "value": 56}], "value": 47}
          }
        }
      ]
    },
    {
      "width": 668, "height": 156,
      "resolve": {"axis": {"x": "independent", "y": "independent"}},
      "layer": [
        {
          "data": {"name": "band"}, "transform": [{"filter": "datum.p==3"}],
          "mark": {"type": "rect", "strokeWidth": 2.4},
          "encoding": {
            "x": {"field": "a", "type": "quantitative", "scale": {"domain": [-1.03, 33.05], "nice": false, "zero": false},
              "axis": {"title": "Chromosome", "values": [1,2,3,4,5,6,7,8,9,10,11,12,13,14,15,16,17,18,19,20,21,22,23,24,25,26,27,28,29,30,31],
                "labelExpr": "datum.value==31?'Z':(''+datum.value)", "labelOverlap": false, "labelFlush": false, "labelPadding": 1}},
            "x2": {"field": "b"},
            "y": {"field": "h", "type": "quantitative", "scale": {"domain": [-95, 2092], "nice": false, "zero": false},
              "axis": {"title": "composite likelihood", "titlePadding": 1.5, "values": [0,500,1000,1500,2000], "format": "d"}},
            "y2": {"datum": 0},
            "color": {"condition": {"test": "datum.g==1", "value": "#0000FF"}, "value": "#000000"},
            "stroke": {"condition": {"test": "datum.g==1", "value": "#0000FF"}, "value": "#000000"}
          }
        },
        {
          "data": {"name": "pt"}, "transform": [{"filter": "datum.p==3"}],
          "mark": {"type": "circle", "size": 9, "opacity": 1},
          "encoding": {
            "x": {"field": "x", "type": "quantitative", "axis": null},
            "y": {"field": "y", "type": "quantitative",
              "axis": {"orient": "right", "values": [250,750,1250,1750], "grid": true, "gridColor": "#EFEFEF", "gridWidth": 0.6, "labels": false, "ticks": false, "domain": false, "title": null}},
            "color": {"condition": {"test": "datum.g==1", "value": "#0000FF"}, "value": "#000000"}
          }
        },
        {
          "data": {"name": "vl"}, "transform": [{"filter": "datum.p==3"}],
          "mark": {"type": "rule", "strokeWidth": 1.6},
          "encoding": {
            "x": {"field": "x", "type": "quantitative",
              "axis": {"orient": "top", "values": [0,0.5,1.5,2.5,3.5,4.5,5.5,6.5,7.5,8.5,9.5,10.5,11.5,12.5,13.5,14.5,15.5,16.5,17.5,18.5,19.5,20.5,21.5,22.5,23.5,24.5,25.5,26.5,27.5,28.5,29.5,30.5,31.5,32], "grid": true, "gridColor": "#EFEFEF", "gridWidth": 0.6, "labels": false, "ticks": false, "domain": false, "title": null}},
            "color": {"condition": [{"test": "datum.t=='r'", "value": "#FF0000"}, {"test": "datum.t=='b'", "value": "#6A9BEA"}], "value": "#A9A9A9"}
          }
        },
        {
          "data": {"name": "star"}, "transform": [{"filter": "datum.p==3"}],
          "mark": {"type": "point", "shape": "M0,-1L0.235,-0.324L0.951,-0.309L0.38,0.124L0.588,0.809L0,0.4L-0.588,0.809L-0.38,0.124L-0.951,-0.309L-0.235,-0.324Z", "filled": true, "color": "#FF0000", "size": 55, "opacity": 1, "strokeWidth": 0},
          "encoding": {
            "x": {"field": "x", "type": "quantitative", "axis": null},
            "y": {"field": "y", "type": "quantitative", "axis": null}
          }
        },
        {
          "data": {"name": "mk"}, "transform": [{"filter": "datum.p==3"}],
          "mark": {"type": "point", "filled": true, "opacity": 1, "strokeWidth": 0},
          "encoding": {
            "x": {"field": "x", "type": "quantitative", "axis": null},
            "y": {"field": "y", "type": "quantitative", "axis": null},
            "shape": {"condition": [{"test": "datum.m=='ML-SA'", "value": "M0,-1.1L0.9,-0.35L0.6,0.9L-0.6,0.9L-0.9,-0.35Z"}, {"test": "datum.m=='ML-EGT'", "value": "M-0.85,-1L0.85,-1L0.85,1L-0.85,1Z"}], "value": "M0,-1L0.9,1L-0.9,1Z"},
            "color": {"condition": [{"test": "datum.m=='ML-SA'", "value": "#1D4CE6"}, {"test": "datum.m=='ML-EGT'", "value": "#0FA83B"}], "value": "#FF00FF"},
            "size": {"condition": [{"test": "datum.m=='ML-SA'", "value": 56}], "value": 47}
          }
        }
      ]
    },
    {
      "width": 600, "height": 26,
      "view": {"stroke": null},
      "data": {"name": "leg"},
      "layer": [
        {
          "mark": {"type": "text", "align": "right", "baseline": "middle", "dx": -46, "fontSize": 20, "font": "Liberation Sans", "color": "#000000"},
          "encoding": {
            "x": {"field": "k", "type": "quantitative", "scale": {"domain": [0.083, 3.655], "nice": false, "zero": false}, "axis": null},
            "text": {"field": "m"}
          }
        },
        {
          "mark": {"type": "point", "filled": true, "opacity": 1, "strokeWidth": 0},
          "encoding": {
            "x": {"field": "k", "type": "quantitative", "axis": null},
            "shape": {"condition": [{"test": "datum.m=='ML-SA'", "value": "M0,-1.1L0.9,-0.35L0.6,0.9L-0.6,0.9L-0.9,-0.35Z"}, {"test": "datum.m=='ML-EGT'", "value": "M-0.85,-1L0.85,-1L0.85,1L-0.85,1Z"}], "value": "M0,-1L0.9,1L-0.9,1Z"},
            "color": {"condition": [{"test": "datum.m=='ML-SA'", "value": "#1D4CE6"}, {"test": "datum.m=='ML-EGT'", "value": "#0FA83B"}], "value": "#FF00FF"},
            "size": {"condition": [{"test": "datum.m=='ML-SA'", "value": 121}], "value": 132}
          }
        }
      ]
    }
  ]
}
